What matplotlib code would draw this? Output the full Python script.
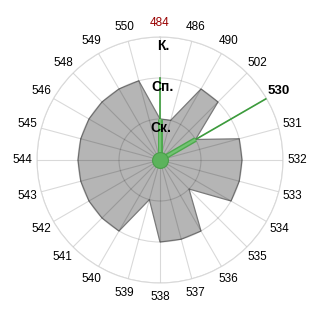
import numpy as np
import matplotlib
matplotlib.use("Agg")
import matplotlib.pyplot as plt

plt.rcParams['font.family'] = ['Liberation Sans', 'DejaVu Sans']

categories = ["484", "486", "490", "502", "530", "531", "532", "533", "534", "535",
              "536", "537", "538", "539", "540", "541", "542", "543", "544", "545",
              "546", "548", "549", "550"]
area_values = [1, 1, 2, 2, 1, 2, 2, 2, 2, 1,
               2, 2, 2, 1, 2, 2, 2, 2, 2, 2,
               2, 2, 2, 2]
# green rays: category -> (inner value, outer value)
ray_cats = ["484", "530"]
ray_inner = [1, 1]
ray_outer = [2, 3]
level_values = [1, 2, 3]
level_labels = ["Ск.", "Сп.", "К."]

n = len(categories)
theta = np.arange(n) * 2 * np.pi / n

fig = plt.figure(figsize=(3.2, 3.2), dpi=100)
R = 123 / 320
ax = fig.add_axes([0.5 - R, 0.5 - R, 2 * R, 2 * R], projection='polar')
ax.set_theta_zero_location('N')
ax.set_theta_direction(-1)
ax.set_ylim(0, 3)

# radar area (straight segments between points)
ax.fill(np.append(theta, theta[0]), area_values + area_values[:1],
        facecolor='#b5b5b5', edgecolor='#7a7a7a', lw=0.9, zorder=1)

ax.set_xticks(theta)
ax.set_xticklabels([])
ax.set_yticks(level_values)
ax.set_yticklabels([])
ax.grid(True, color='black', alpha=0.15, lw=0.8)
ax.spines['polar'].set_color('#d9d9d9')
ax.spines['polar'].set_linewidth(0.8)

# green rays
for cat, r_in, r_out in zip(ray_cats, ray_inner, ray_outer):
    t = theta[categories.index(cat)]
    ax.plot([t, t], [0, r_out], color='#3c9c3c', lw=1.2, zorder=3)
    ax.plot([t, t], [0, r_in], color='#4ea84e', lw=3.6, zorder=3,
            solid_capstyle='butt')
    ax.plot([t, t], [0, r_in], color='#72c472', lw=1.6, zorder=3,
            solid_capstyle='butt')
ax.scatter([0], [0], s=130, color='#5cb35c', edgecolor='#4a9e4a', lw=0.8, zorder=4)

# category labels
for t, cat in zip(theta, categories):
    color, weight, size = 'black', 'normal', 8.5
    if cat == "484":
        color = '#990000'
    if cat == "530":
        weight, size = 'bold', 9.5
    ax.text(t, 3.35, cat, ha='center', va='center', color=color,
            fontweight=weight, fontsize=size, clip_on=False)

# level labels
for v, lab in zip(level_values, level_labels):
    ax.text(0.03, v - 0.22, lab, ha='center', va='center', fontsize=10,
            fontweight='bold', color='black', zorder=5)

fig.savefig("out.png", dpi=100)
